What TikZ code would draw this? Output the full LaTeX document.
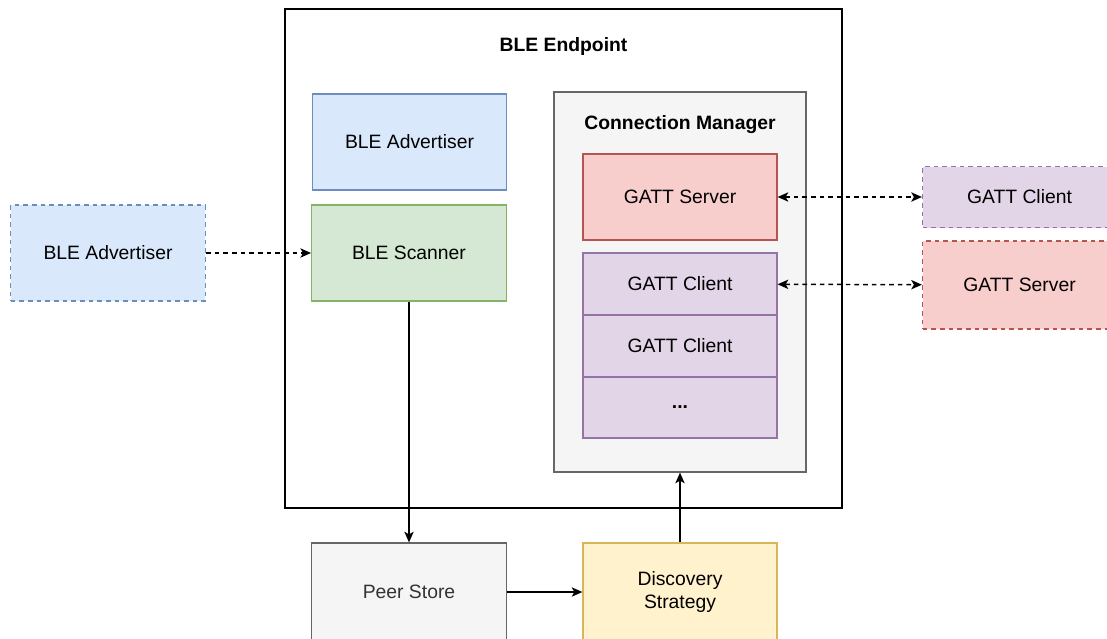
\documentclass[tikz,border=0pt]{standalone}
\usepackage{fontspec}
\setmainfont{Liberation Sans}
\usetikzlibrary{arrows.meta}
\definecolor{bluefill}{HTML}{DAE8FC}
\definecolor{bluedraw}{HTML}{6C8EBF}
\definecolor{greenfill}{HTML}{D5E8D4}
\definecolor{greendraw}{HTML}{82B366}
\definecolor{redfill}{HTML}{F8CECC}
\definecolor{reddraw}{HTML}{B85450}
\definecolor{violetfill}{HTML}{E1D5E7}
\definecolor{violetdraw}{HTML}{9673A6}
\definecolor{greyfill}{HTML}{F5F5F5}
\definecolor{greydraw}{HTML}{666666}
\definecolor{greytext}{HTML}{333333}
\definecolor{yellowfill}{HTML}{FFF2CC}
\definecolor{yellowdraw}{HTML}{D6B656}
\begin{document}
\begin{tikzpicture}[x=0.75pt, y=-0.75pt,
		every node/.style={font=\fontsize{14.5}{17}\selectfont, inner sep=0pt},
		box/.style={draw, line width=0.9pt, minimum width=146pt, minimum height=72pt},
		dashedline/.style={dash pattern=on 3.5pt off 3pt},
		link/.style={line width=1.1pt, -{Stealth[length=8pt, width=7pt, inset=2pt]}},
		twolink/.style={line width=1.1pt, {Stealth[length=8pt, width=7pt, inset=2pt]}-{Stealth[length=8pt, width=7pt, inset=2pt]}}]
		\useasboundingbox (0, 0) rectangle (1107, 639);
		% BLE endpoint
		\node[draw, line width=1.1pt, minimum width=417.75pt, minimum height=374.25pt] (endpoint) at (563.5, 258.5) {};
		\node[font=\fontsize{14.5}{17}\selectfont\bfseries] (endpointtitle) at (563.5, 47) {BLE Endpoint};
		\node[box, fill=bluefill, draw=bluedraw] (advin) at (409.5, 142) {BLE Advertiser};
		\node[box, fill=greenfill, draw=greendraw] (scanner) at (409, 253) {BLE Scanner};
		% connection manager
		\node[draw=greydraw, fill=greyfill, line width=0.9pt, minimum width=189pt, minimum height=285pt] (manager) at (680, 282) {};
		\node[font=\fontsize{14.5}{17}\selectfont\bfseries] (managertitle) at (680, 125) {Connection Manager};
		\node[box, fill=redfill, draw=reddraw, minimum width=145.5pt, minimum height=64.5pt] (gserver) at (680, 197) {GATT Server};
		\node[box, fill=violetfill, draw=violetdraw, minimum width=145.5pt, minimum height=46.5pt] (gclienta) at (680, 284) {GATT Client};
		\node[box, fill=violetfill, draw=violetdraw, minimum width=145.5pt, minimum height=46.5pt] (gclientb) at (680, 346) {GATT Client};
		\node[box, fill=violetfill, draw=violetdraw, minimum width=145.5pt, minimum height=45.75pt] (gmore) at (680, 407.5) {\textbf{...}};
		% outside the endpoint
		\node[box, dashedline, fill=bluefill, draw=bluedraw] (advout) at (108, 253) {BLE Advertiser};
		\node[box, dashedline, fill=violetfill, draw=violetdraw, minimum width=145.5pt, minimum height=45.75pt] (rclient) at (1019.5, 197) {GATT Client};
		\node[box, dashedline, fill=redfill, draw=reddraw, minimum width=145.5pt, minimum height=66pt] (rserver) at (1019.5, 285) {GATT Server};
		\node[box, fill=greyfill, draw=greydraw, text=greytext, minimum height=73.5pt] (peer) at (409, 592) {Peer Store};
		\node[box, fill=yellowfill, draw=yellowdraw, minimum width=145.5pt, minimum height=73.5pt, align=center] (discovery) at (680, 592) {Discovery\\Strategy};
		% the links
		\draw[link, dashedline] (advout) -- (scanner);
		\draw[twolink, dashedline] (gserver) -- (rclient);
		\draw[twolink, dashedline] (gclienta) -- (rserver);
		\draw[link] (scanner) -- (peer);
		\draw[link] (peer) -- (discovery);
		\draw[link] (discovery) -- (manager);
	\end{tikzpicture}
\end{document}
